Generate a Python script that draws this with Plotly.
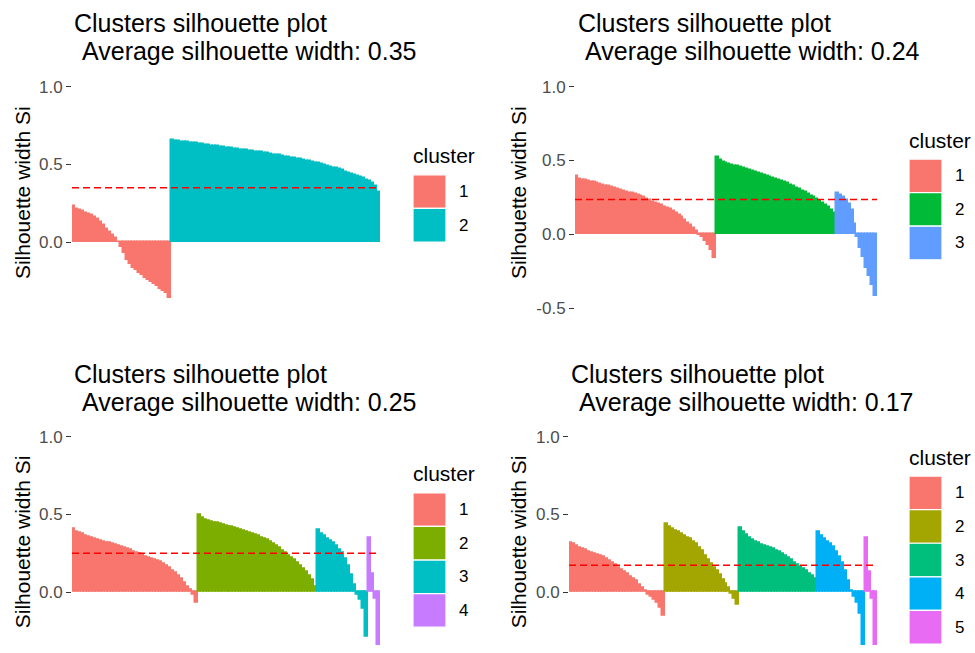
import plotly.graph_objects as go

W, H = 975, 653
FONT = "Liberation Sans, Arial, sans-serif"

TITLE_LINE1 = "Clusters silhouette plot"
AXIS_TITLE = "Silhouette width Si"
LEGEND_TITLE = "cluster"
TICK_VALUES = [-0.5, 0.0, 0.5, 1.0]
TICK_LABELS = ["-0.5", "0.0", "0.5", "1.0"]

avg_widths = [0.35, 0.236, 0.25, 0.172]

# ---- k = 2 ----
k2_c1 = [0.235, 0.215, 0.205, 0.198, 0.19, 0.18, 0.172, 0.162, 0.15, 0.128, 0.11,
         0.085, 0.065, 0.045, 0.025, -0.003, -0.03, -0.07, -0.115, -0.145, -0.165,
         -0.18, -0.2, -0.215, -0.23, -0.242, -0.255, -0.27, -0.285, -0.3, -0.315,
         -0.33, -0.36]
k2_c2 = [0.655, 0.652, 0.650, 0.647, 0.645, 0.642, 0.640, 0.637, 0.635, 0.632,
         0.629, 0.627, 0.624, 0.622, 0.619, 0.617, 0.614, 0.611, 0.609, 0.606,
         0.603, 0.601, 0.598, 0.595, 0.593, 0.590, 0.588, 0.585, 0.582, 0.580,
         0.577, 0.574, 0.571, 0.568, 0.564, 0.561, 0.558, 0.555, 0.551, 0.548,
         0.544, 0.540, 0.536, 0.532, 0.528, 0.524, 0.520, 0.516, 0.511, 0.507,
         0.502, 0.497, 0.491, 0.486, 0.480, 0.474, 0.468, 0.461, 0.454, 0.447,
         0.440, 0.433, 0.427, 0.419, 0.411, 0.402, 0.392, 0.380, 0.362, 0.320]

# ---- k = 3 ----
k3_c1 = [0.395, 0.378, 0.37, 0.365, 0.36, 0.356, 0.351, 0.346, 0.34, 0.335,
         0.33, 0.324, 0.318, 0.312, 0.305, 0.298, 0.292, 0.288, 0.283, 0.278,
         0.274, 0.268, 0.26, 0.25, 0.242, 0.232, 0.222, 0.213, 0.204, 0.196,
         0.188, 0.18, 0.17, 0.16, 0.146, 0.13, 0.115, 0.098, 0.08, 0.06,
         0.04, 0.02, -0.004, -0.02, -0.045, -0.07, -0.105, -0.16]
k3_c2 = [0.525, 0.505, 0.49, 0.482, 0.475, 0.47, 0.465, 0.46, 0.455, 0.449,
         0.443, 0.437, 0.43, 0.424, 0.417, 0.411, 0.404, 0.397, 0.39, 0.383,
         0.376, 0.369, 0.362, 0.355, 0.345, 0.335, 0.325, 0.315, 0.305, 0.296,
         0.285, 0.273, 0.261, 0.25, 0.237, 0.224, 0.21, 0.196, 0.182, 0.167, 0.145]
k3_c3 = [0.28, 0.265, 0.25, 0.23, 0.205, 0.165, 0.07, -0.02, -0.09, -0.155,
         -0.23, -0.285, -0.34, -0.42]

# ---- k = 4 ----
k4_c1 = [0.41, 0.39, 0.38, 0.372, 0.365, 0.357, 0.35, 0.344, 0.338, 0.332,
         0.326, 0.32, 0.314, 0.308, 0.302, 0.297, 0.29, 0.283, 0.276, 0.269,
         0.262, 0.254, 0.246, 0.238, 0.23, 0.222, 0.215, 0.208, 0.2, 0.192,
         0.184, 0.17, 0.155, 0.14, 0.125, 0.105, 0.085, 0.06, 0.035, 0.015,
         -0.015, -0.07]
k4_c2 = [0.5, 0.48, 0.468, 0.46, 0.453, 0.448, 0.443, 0.438, 0.432, 0.427,
         0.422, 0.417, 0.412, 0.406, 0.4, 0.393, 0.387, 0.381, 0.374, 0.367,
         0.36, 0.352, 0.344, 0.335, 0.325, 0.313, 0.3, 0.284, 0.268, 0.252,
         0.236, 0.222, 0.206, 0.188, 0.17, 0.15, 0.13, 0.105, 0.08, 0.035]
k4_c3 = [0.4, 0.375, 0.36, 0.345, 0.33, 0.315, 0.295, 0.275, 0.25, 0.215,
         0.17, 0.11, 0.05, -0.02, -0.05, -0.11, -0.29]
k4_c4 = [0.35, 0.12, -0.04, -0.4]

# ---- k = 5 ----
k5_c1 = [0.32, 0.31, 0.298, 0.288, 0.279, 0.27, 0.262, 0.255, 0.249, 0.243,
         0.236, 0.228, 0.215, 0.2, 0.186, 0.173, 0.158, 0.145, 0.132, 0.118,
         0.1, 0.085, 0.07, 0.05, 0.03, 0.008, -0.015, -0.03, -0.047, -0.07,
         -0.1, -0.15]
k5_c2 = [0.44, 0.42, 0.405, 0.395, 0.385, 0.375, 0.364, 0.352, 0.34, 0.326,
         0.31, 0.288, 0.265, 0.233, 0.205, 0.182, 0.158, 0.135, 0.11, 0.08,
         0.055, 0.025, -0.01, -0.04, -0.08]
k5_c3 = [0.415, 0.39, 0.37, 0.352, 0.338, 0.326, 0.316, 0.307, 0.3, 0.292,
         0.285, 0.277, 0.268, 0.258, 0.245, 0.232, 0.218, 0.205, 0.19, 0.177,
         0.164, 0.15, 0.135, 0.12, 0.105, 0.085]
k5_c4 = [0.385, 0.36, 0.34, 0.325, 0.308, 0.29, 0.262, 0.23, 0.19, 0.14,
         0.075, 0.01, -0.03, -0.07, -0.14, -0.4]
k5_c5 = [0.35, 0.13, -0.04, -0.4]

PAL2 = ["#F8766D", "#00BFC4"]
PAL3 = ["#F8766D", "#00BA38", "#619CFF"]
PAL4 = ["#F8766D", "#7CAE00", "#00BFC4", "#C77CFF"]
PAL5 = ["#F8766D", "#A3A500", "#00BF7D", "#00B0F6", "#E76BF3"]

# layout (pixel) settings for each panel
panels = [
    dict(clusters=[k2_c1, k2_c2], colors=PAL2, avg=avg_widths[0],
         box=(72, 380, 77, 314), yrange=[-0.439, 1.07],
         title_x=(72, 80), title_y=(23.5, 51.5), ytitle=(22, 195.5),
         leg_x=413, leg_title_y=157, leg_top=177),
    dict(clusters=[k3_c1, k3_c2, k3_c3], colors=PAL3, avg=avg_widths[1],
         box=(575, 877, 77, 314), yrange=[-0.513, 1.072],
         title_x=(576, 583), title_y=(23.5, 51.5), ytitle=(518, 195.5),
         leg_x=909, leg_title_y=142, leg_top=161),
    dict(clusters=[k4_c1, k4_c2, k4_c3, k4_c4], colors=PAL4, avg=avg_widths[2],
         box=(72, 380, 431, 653), yrange=[-0.341, 1.07],
         title_x=(72, 80), title_y=(378.5, 406.5), ytitle=(22, 549),
         leg_x=413, leg_title_y=479, leg_top=499),
    dict(clusters=[k5_c1, k5_c2, k5_c3, k5_c4, k5_c5], colors=PAL5, avg=avg_widths[3],
         box=(569, 877, 431, 653), yrange=[-0.341, 1.07],
         title_x=(569, 577), title_y=(378.5, 406.5), ytitle=(518, 549),
         leg_x=909, leg_title_y=463, leg_top=482),
]

KEY_W, KEY_H = 33, 34

fig = go.Figure()
shapes = []
annotations = []
layout_axes = {}


def px(x):
    return x / W


def py(y):
    return 1 - y / H


for i, p in enumerate(panels, start=1):
    xa = "x" if i == 1 else f"x{i}"
    ya = "y" if i == 1 else f"y{i}"
    start = 0
    for c, (vals, col) in enumerate(zip(p["clusters"], p["colors"]), start=1):
        fig.add_trace(go.Bar(
            x=list(range(start, start + len(vals))), y=vals, width=1,
            marker=dict(color=col, line=dict(color=col, width=1.5)),
            xaxis=xa, yaxis=ya, showlegend=False, name=str(c),
        ))
        start += len(vals)
    n_total = start
    l, r, t, b = p["box"]
    layout_axes["xaxis" if i == 1 else f"xaxis{i}"] = dict(
        domain=[px(l), px(r)], range=[-0.5, n_total - 0.5], visible=False,
        anchor=ya, fixedrange=True)
    layout_axes["yaxis" if i == 1 else f"yaxis{i}"] = dict(
        domain=[py(b), py(t)], range=p["yrange"], anchor=xa,
        tickvals=TICK_VALUES, ticktext=TICK_LABELS, ticks="outside", ticklen=5,
        tickwidth=1.2, tickcolor="#333333", showgrid=False, zeroline=False,
        showline=False, tickfont=dict(family=FONT, size=17, color="#4D4D4D"),
        fixedrange=True)

    # average silhouette width reference line
    shapes.append(dict(type="line", xref=f"{xa} domain", yref=ya, x0=0, x1=1,
                       y0=p["avg"], y1=p["avg"],
                       line=dict(color="#FF0000", width=1.5, dash="7px,4px")))

    # titles
    annotations.append(dict(text=TITLE_LINE1, x=px(p["title_x"][0]), y=py(p["title_y"][0]),
                            xref="paper", yref="paper", xanchor="left", yanchor="middle",
                            showarrow=False, font=dict(family=FONT, size=25, color="black")))
    annotations.append(dict(text=f"Average silhouette width: {p['avg']:.2f}",
                            x=px(p["title_x"][1]), y=py(p["title_y"][1]),
                            xref="paper", yref="paper", xanchor="left", yanchor="middle",
                            showarrow=False, font=dict(family=FONT, size=25, color="black")))
    # y axis title
    annotations.append(dict(text=AXIS_TITLE, x=px(p["ytitle"][0]), y=py(p["ytitle"][1]),
                            xref="paper", yref="paper", xanchor="center", yanchor="middle",
                            textangle=-90, showarrow=False,
                            font=dict(family=FONT, size=21, color="black")))
    # legend
    lx = p["leg_x"]
    annotations.append(dict(text=LEGEND_TITLE, x=px(lx - 2), y=py(p["leg_title_y"]),
                            xref="paper", yref="paper", xanchor="left", yanchor="middle",
                            showarrow=False, font=dict(family=FONT, size=21, color="black")))
    for c, col in enumerate(p["colors"]):
        top = p["leg_top"] + c * KEY_H
        shapes.append(dict(type="rect", xref="paper", yref="paper",
                           x0=px(lx), x1=px(lx + KEY_W), y0=py(top + KEY_H), y1=py(top),
                           fillcolor=col, line=dict(color="white", width=1.2), layer="above"))
        annotations.append(dict(text=str(c + 1), x=px(lx + KEY_W + 11), y=py(top + KEY_H / 2),
                                xref="paper", yref="paper", xanchor="left", yanchor="middle",
                                showarrow=False, font=dict(family=FONT, size=17, color="black")))

fig.update_layout(
    width=W, height=H, autosize=False,
    margin=dict(l=0, r=0, t=0, b=0, pad=0),
    paper_bgcolor="white", plot_bgcolor="white",
    barmode="overlay", bargap=0,
    showlegend=False,
    shapes=shapes, annotations=annotations,
    font=dict(family=FONT),
    **layout_axes,
)

POST = (
    "var d=document.getElementById('{plot_id}');"
    "d.style.position='absolute';d.style.left='0px';d.style.top='0px';"
    "var h=document.documentElement,b=document.body;"
    "h.style.margin='0';b.style.margin='0';b.style.padding='0';"
    "h.style.overflow='hidden';b.style.overflow='hidden';"
)

fig.write_html("out.html", config={"displayModeBar": False}, post_script=POST)
